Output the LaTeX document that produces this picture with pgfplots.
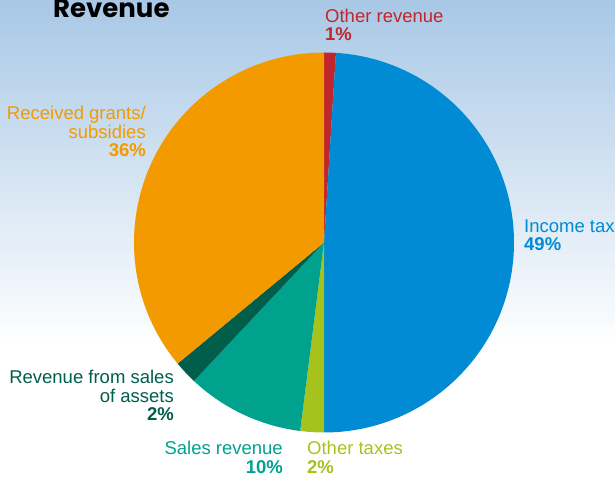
\documentclass[border=0pt]{standalone}
\usepackage{pgfplots}
\pgfplotsset{compat=1.18}
\usepackage{fontspec}
\setmainfont{Liberation Sans}
\newfontfamily\titlefont{Poppins}
\definecolor{cRed}{RGB}{192,38,45}
\definecolor{cBlue}{RGB}{0,139,212}
\definecolor{cLime}{RGB}{165,195,28}
\definecolor{cTeal}{RGB}{0,162,142}
\definecolor{cDark}{RGB}{0,94,75}
\definecolor{cOrange}{RGB}{243,154,0}
\definecolor{bgTop}{RGB}{168,200,230}
\begin{document}
\begin{tikzpicture}
\useasboundingbox (0,0) rectangle (615bp,478bp);
\clip (0,0) rectangle (615bp,478bp);
\begin{axis}[
  scale only axis, width=615bp, height=478bp,
  xmin=0, xmax=615, ymin=0, ymax=478,
  hide axis, clip=true,
]
% background gradient
\shade[top color=bgTop, bottom color=white] (axis cs:0,478) rectangle (axis cs:615,131);
% pie slices: share (%) / colour, clockwise from 12 o'clock
\def\cum{0}
\foreach \v/\col in {1/cRed,49/cBlue,2/cLime,10/cTeal,2/cDark,36/cOrange} {
  \pgfmathsetmacro\a{90-3.6*\cum}
  \pgfmathsetmacro\b{90-3.6*(\cum+\v)}
  \edef\temp{\noexpand\fill[\col] (axis cs:324,235.5) -- ++(\a:190bp) arc[start angle=\a, end angle=\b, radius=190bp] -- cycle;}
  \temp
  \pgfmathsetmacro\newcum{\cum+\v}
  \global\let\cum\newcum
}
\end{axis}
% labels (positions in px from top-left; anchor = baseline of last line)
\begin{scope}[every node/.style={inner sep=0pt, font=\fontsize{18.5bp}{18.8bp}\selectfont}]
\node[anchor=base west, font=\titlefont\bfseries\fontsize{26bp}{26bp}\selectfont] at (53bp,478bp-18bp) {Revenue};
\node[anchor=base west, text=cRed, align=left] at (325bp,478bp-41bp) {Other revenue\\\textbf{1\%}};
\node[anchor=base east, text=cOrange, align=right] at (146bp,478bp-157bp) {Received grants/\\subsidies\\\textbf{36\%}};
\node[anchor=base west, text=cBlue, align=left] at (524bp,478bp-251bp) {Income tax\\\textbf{49\%}};
\node[anchor=base east, text=cDark, align=right] at (174bp,478bp-421bp) {Revenue from sales\\of assets\\\textbf{2\%}};
\node[anchor=base east, text=cTeal, align=right] at (283bp,478bp-473bp) {Sales revenue\\\textbf{10\%}};
\node[anchor=base west, text=cLime, align=left] at (307bp,478bp-473bp) {Other taxes\\\textbf{2\%}};
\end{scope}
\end{tikzpicture}
\end{document}
